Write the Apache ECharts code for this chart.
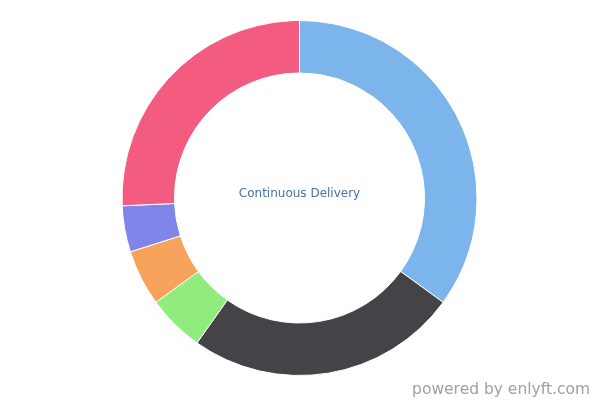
<!DOCTYPE html>
<html><head><meta charset="utf-8">
<script src="https://cdn.jsdelivr.net/npm/echarts@6/dist/echarts.min.js"></script>
<style>html,body{margin:0;padding:0;background:#fff}#c{width:600px;height:400px}</style>
</head><body><div id="c"></div>
<script>
const categories = ['Segment 1', 'Segment 2', 'Segment 3', 'Segment 4', 'Segment 5', 'Segment 6'];
const values = [35.0, 24.8, 5.2, 5.1, 4.2, 25.7];
const colors = ['#7cb5ec', '#434348', '#90ed7d', '#f7a35c', '#8085e9', '#f45b80'];
const titleText = 'Continuous Delivery';
const creditText = 'powered by enlyft.com';

const chart = echarts.init(document.getElementById('c'), null, {renderer: 'canvas'});
chart.setOption({
  animation: false,
  color: colors,
  graphic: [{
    type: 'text', x: 299.5, y: 194,
    style: {text: titleText, align: 'center', verticalAlign: 'middle',
      font: '12px "DejaVu Sans"', fill: '#4572a7'}
  }, {
    type: 'text', x: 590, y: 390,
    style: {text: creditText, align: 'right', verticalAlign: 'middle',
      font: '15.5px "DejaVu Sans"', fill: '#a0a0a0'}
  }],
  series: [{
    type: 'pie',
    center: [299.5, 198],
    radius: [125, 177.5],
    startAngle: 90,
    clockwise: true,
    label: {show: false},
    labelLine: {show: false},
    itemStyle: {borderColor: '#ffffff', borderWidth: 1},
    emphasis: {disabled: true},
    data: categories.map((n, i) => ({name: n, value: values[i]}))
  }]
});
</script></body></html>
